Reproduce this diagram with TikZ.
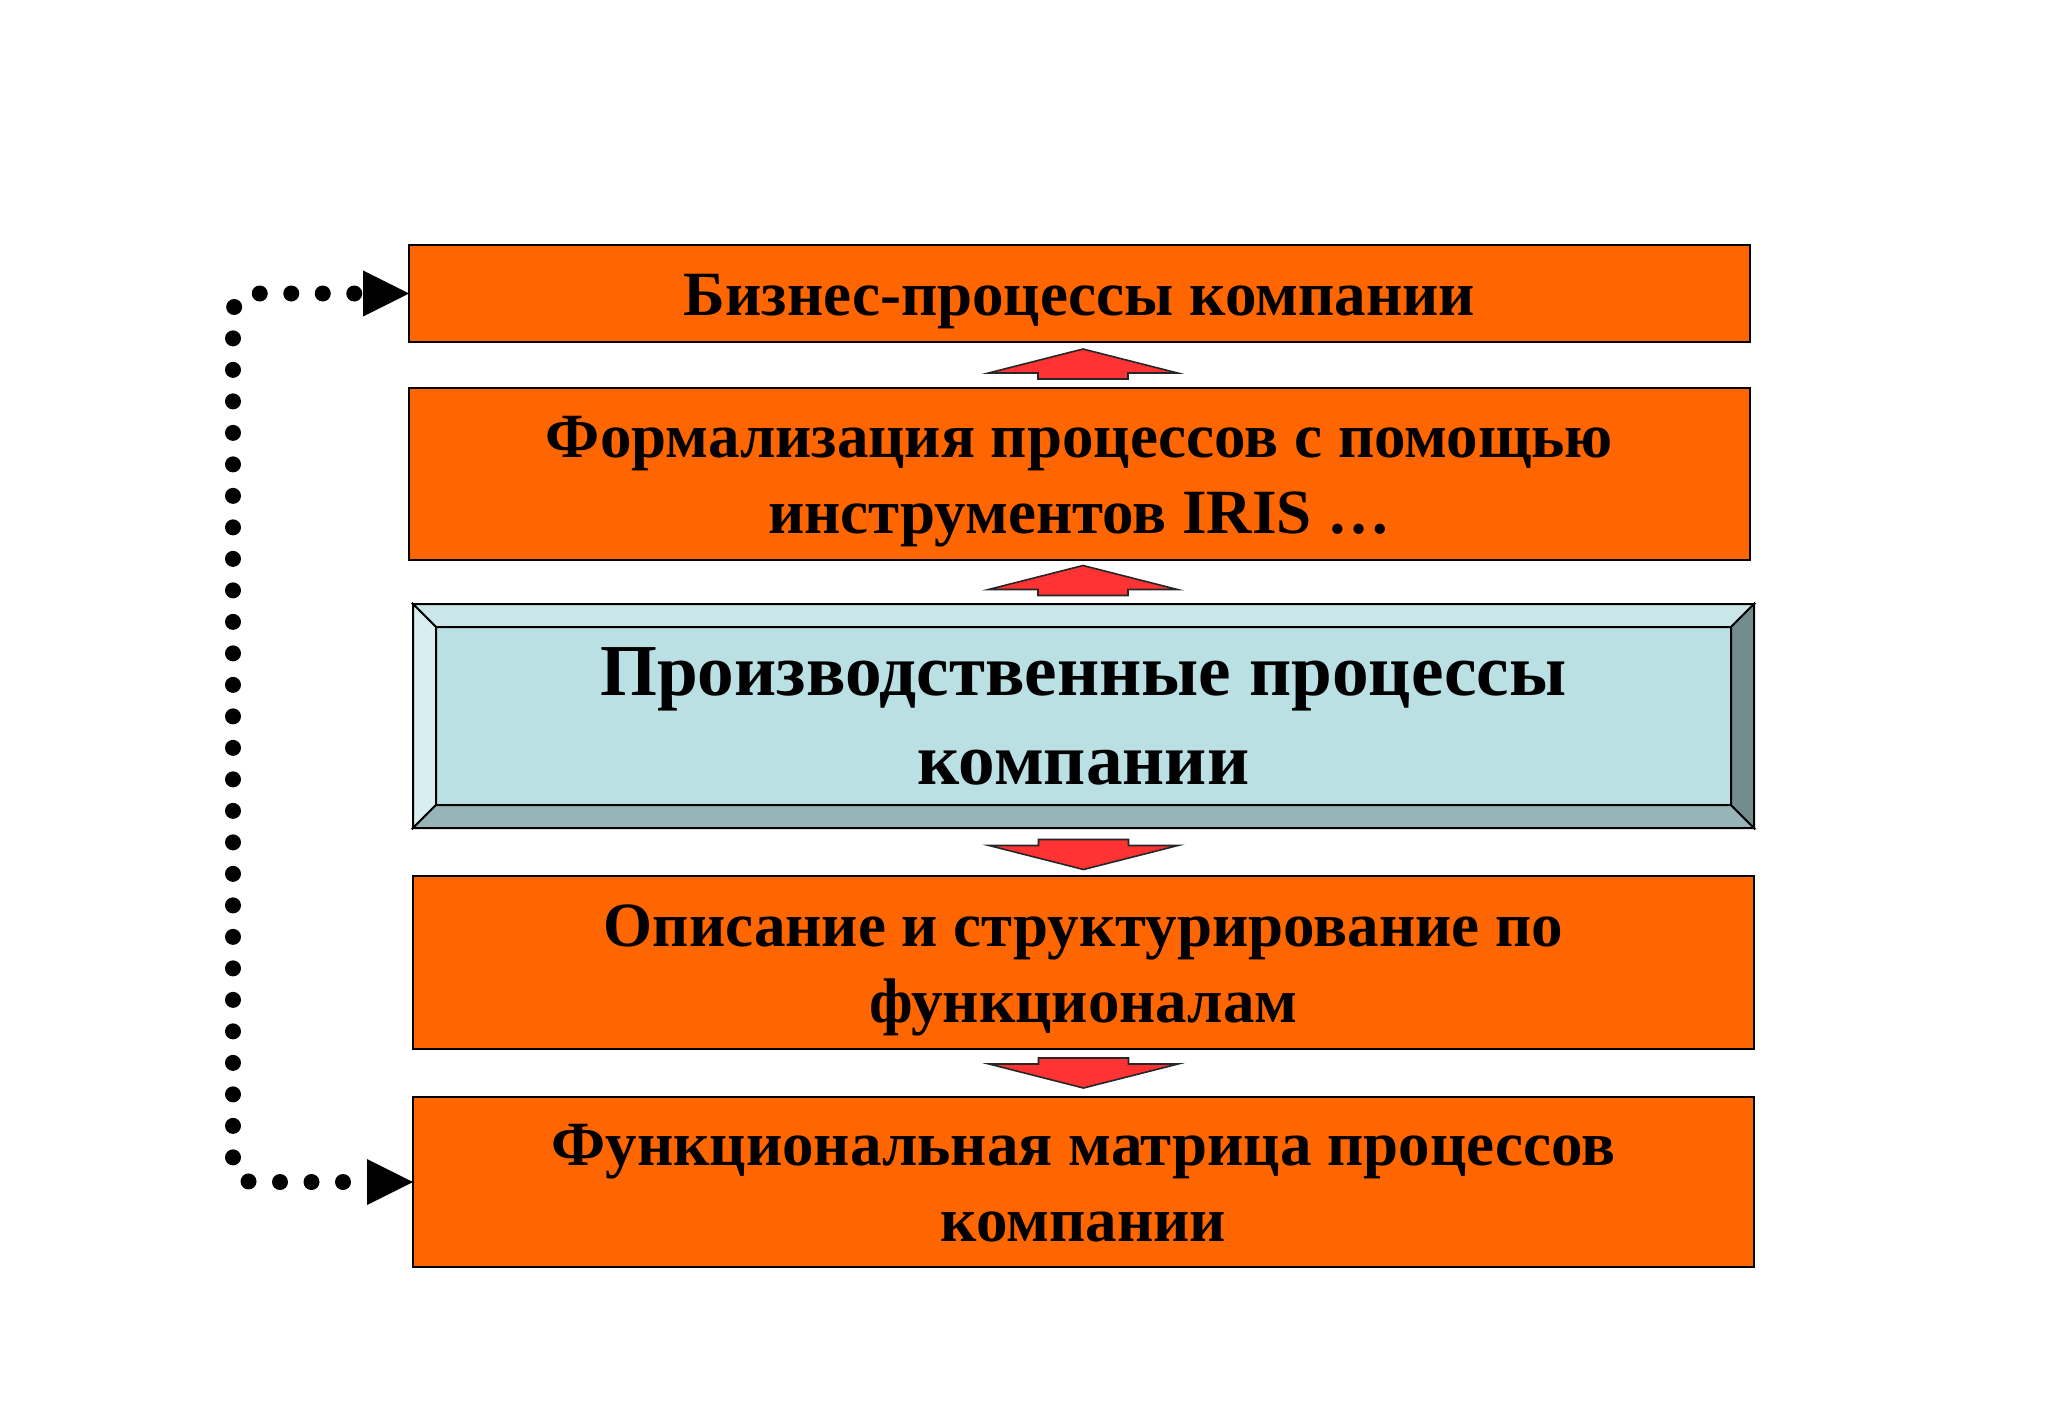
\documentclass[tikz,border=0pt]{standalone}
\usepackage{fontspec}
\setmainfont{Liberation Serif}
\usetikzlibrary{positioning,calc,arrows.meta}
\definecolor{boxorange}{HTML}{FF6600}
\definecolor{arrowred}{HTML}{FF3333}
\definecolor{faceblue}{HTML}{BBE0E3}
\definecolor{bevtop}{HTML}{CBE6E8}
\definecolor{bevleft}{HTML}{D8EEF0}
\definecolor{bevbottom}{HTML}{97B4B6}
\definecolor{bevright}{HTML}{738C8E}
\newcommand{\boxtext}[1]{%
  \raisebox{-3.3pt}[\height][\depth]{\begin{tabular}{@{}c@{}}#1\end{tabular}}%
}
\newcommand{\upblock}[1]{%
  \draw[blockarr,shift={(#1)}] (0,-15) -- (94.5,9) -- (45,9) -- (45,15)
    -- (-45,15) -- (-45,9) -- (-94.5,9) -- cycle;
}
\newcommand{\downblock}[1]{%
  \draw[blockarr,shift={(#1)}] (0,15) -- (94.5,-9) -- (45,-9) -- (45,-15)
    -- (-45,-15) -- (-45,-9) -- (-94.5,-9) -- cycle;
}
\begin{document}
\begin{tikzpicture}[
      x=0.5pt,y=-0.5pt,
      every node/.style={inner sep=0pt,outer sep=0pt,align=center},
      procbox/.style={draw=black,line width=1pt,fill=boxorange,minimum width=670.5pt,
        font=\bfseries\fontsize{31.5}{38}\selectfont},
      midbox/.style={draw=black,line width=1pt,fill=faceblue,minimum width=670.5pt,
        font=\bfseries\fontsize{36.6}{44.5}\selectfont},
      bevel/.style={draw=black,line width=1pt,line join=miter},
      blockarr/.style={fill=arrowred,draw=black!85,line width=0.8pt,line join=miter},
      loopline/.style={line width=8pt,line cap=round,dash pattern=on 0pt off 15.75pt,
        dash phase=3.75pt,rounded corners=10pt}
    ]
  \useasboundingbox (0,0) rectangle (2048,1418);
  \node[procbox,minimum height=48.5pt] (biz) at (1079.5,293.5)
    {\boxtext{Бизнес-процессы компании}};
  \node[procbox,minimum height=86pt,below=23pt of biz] (formal)
    {\boxtext{Формализация процессов с помощью\\инструментов IRIS …}};
  \node[midbox,minimum height=112pt,below=22pt of formal,xshift=2pt] (prod)
    {\boxtext{Производственные процессы\\компании}};
  \node[procbox,minimum height=86.5pt,below=24pt of prod] (descr)
    {\boxtext{Описание и структурирование по\\функционалам}};
  \node[procbox,minimum height=85pt,below=24pt of descr] (matrix)
    {\boxtext{Функциональная матрица процессов\\компании}};
  % bevel of the middle box
  \draw[bevel,fill=bevtop] (prod.north west) -- (prod.north east)
    -- ($(prod.north east)+(-23,23)$) -- ($(prod.north west)+(23,23)$) -- cycle;
  \draw[bevel,fill=bevleft] (prod.north west) -- ($(prod.north west)+(23,23)$)
    -- ($(prod.south west)+(23,-23)$) -- (prod.south west) -- cycle;
  \draw[bevel,fill=bevbottom] (prod.south west) -- ($(prod.south west)+(23,-23)$)
    -- ($(prod.south east)+(-23,-23)$) -- (prod.south east) -- cycle;
  \draw[bevel,fill=bevright] (prod.north east) -- ($(prod.north east)+(-23,23)$)
    -- ($(prod.south east)+(-23,-23)$) -- (prod.south east) -- cycle;
  % block arrows between the boxes
  \coordinate (up1) at ($(biz.south)!0.5!(formal.north)+(3.5,-1)$);
  \coordinate (up2) at ($(formal.south)!0.5!(prod.north)+(1.5,-1.5)$);
  \coordinate (dn1) at ($(prod.south)!0.5!(descr.north)+(0,2.5)$);
  \coordinate (dn2) at ($(descr.south)!0.5!(matrix.north)$);
  \upblock{up1}
  \upblock{up2}
  \downblock{dn1}
  \downblock{dn2}
  % dotted loop
  \coordinate (rail) at (233,700);
  \draw[loopline,{Triangle[length=23pt,width=23pt,line width=0pt]}-{Triangle[length=23pt,width=23pt,line width=0pt]}]
    (matrix.west) -| (rail) |- (biz.west);
\end{tikzpicture}
\end{document}
